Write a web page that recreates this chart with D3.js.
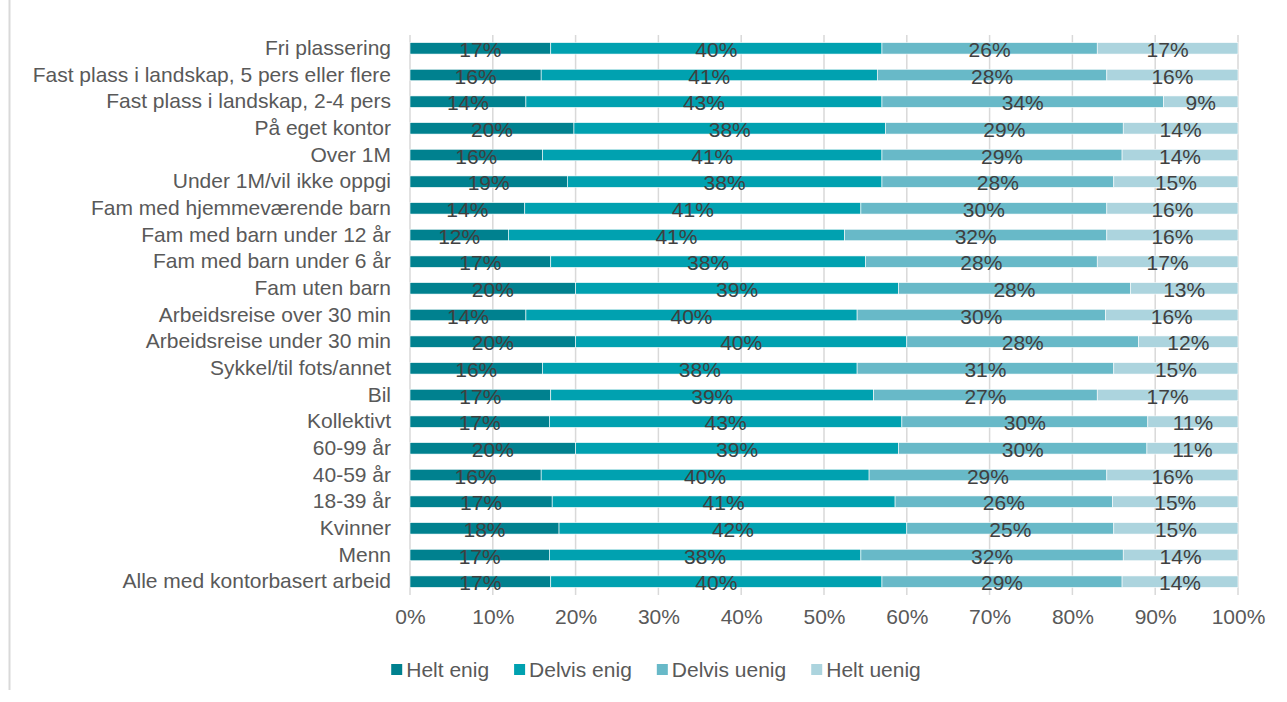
<!DOCTYPE html>
<html>
<head>
<meta charset="utf-8">
<script src="https://cdn.jsdelivr.net/npm/d3@7"></script>
<style>
  html, body { margin: 0; padding: 0; background: #fff; }
  svg { display: block; font-family: "Liberation Sans", Arial, sans-serif; }
</style>
</head>
<body>
<svg id="chart" width="1287" height="702"></svg>
<script>
// Groups, top to bottom
const categories = [
  "Fri plassering",
  "Fast plass i landskap, 5 pers eller flere",
  "Fast plass i landskap, 2-4 pers",
  "På eget kontor",
  "Over 1M",
  "Under 1M/vil ikke oppgi",
  "Fam med hjemmeværende barn",
  "Fam med barn under 12 år",
  "Fam med barn under 6 år",
  "Fam uten barn",
  "Arbeidsreise over 30 min",
  "Arbeidsreise under 30 min",
  "Sykkel/til fots/annet",
  "Bil",
  "Kollektivt",
  "60-99 år",
  "40-59 år",
  "18-39 år",
  "Kvinner",
  "Menn",
  "Alle med kontorbasert arbeid"
];

const seriesNames = ["Helt enig", "Delvis enig", "Delvis uenig", "Helt uenig"];

// Shares in percent, one array per answer, same order as categories
const heltEnig    = [17, 16, 14, 20, 16, 19, 14, 12, 17, 20, 14, 20, 16, 17, 17, 20, 16, 17, 18, 17, 17];
const delvisEnig  = [40, 41, 43, 38, 41, 38, 41, 41, 38, 39, 40, 40, 38, 39, 43, 39, 40, 41, 42, 38, 40];
const delvisUenig = [26, 28, 34, 29, 29, 28, 30, 32, 28, 28, 30, 28, 31, 27, 30, 30, 29, 26, 25, 32, 29];
const heltUenig   = [17, 16,  9, 14, 14, 15, 16, 16, 17, 13, 16, 12, 15, 17, 11, 11, 16, 15, 15, 14, 14];

const xTicks = [0, 0.1, 0.2, 0.3, 0.4, 0.5, 0.6, 0.7, 0.8, 0.9, 1.0];

const colors = ["#00818f", "#00a1b0", "#68b9c8", "#acd4de"];

const svg = d3.select("#chart");

const margin = { left: 410, right: 1238, top: 35, bottom: 595 };

// Frame edge on the left
svg.append("line")
  .attr("x1", 9.5).attr("x2", 9.5)
  .attr("y1", 0).attr("y2", 690)
  .attr("stroke", "#d9d9d9").attr("stroke-width", 2);

const rows = categories.map((c, i) => {
  const vals = [heltEnig[i], delvisEnig[i], delvisUenig[i], heltUenig[i]];
  const total = d3.sum(vals);
  const row = { category: c, values: vals };
  seriesNames.forEach((s, k) => row[s] = vals[k] / total);
  return row;
});

const stack = d3.stack().keys(seriesNames);
const stacked = stack(rows);

const x = d3.scaleLinear().domain([0, 1]).range([margin.left, margin.right]);
const y = d3.scaleBand().domain(categories).range([margin.top, margin.bottom]).paddingInner(0.57).paddingOuter(0.285);

// Vertical gridlines
svg.append("g")
  .selectAll("line")
  .data(xTicks)
  .join("line")
  .attr("x1", d => x(d)).attr("x2", d => x(d))
  .attr("y1", margin.top).attr("y2", margin.bottom)
  .attr("stroke", "#d9d9d9").attr("stroke-width", 1.5);

// Stacked bars
const layers = svg.append("g")
  .selectAll("g")
  .data(stacked)
  .join("g")
  .attr("fill", (d, i) => colors[i]);

layers.selectAll("rect")
  .data(d => d)
  .join("rect")
  .attr("x", d => x(d[0]))
  .attr("y", d => y(d.data.category))
  .attr("width", d => x(d[1]) - x(d[0]))
  .attr("height", y.bandwidth())
  .attr("stroke", "#ffffff")
  .attr("stroke-width", 0.6);

// Value labels
stacked.forEach((layer, k) => {
  svg.append("g")
    .selectAll("text")
    .data(layer)
    .join("text")
    .attr("x", d => x((d[0] + d[1]) / 2))
    .attr("y", d => y(d.data.category) + y.bandwidth() / 2 + 8.5)
    .attr("text-anchor", "middle")
    .attr("font-size", 21)
    .attr("fill", "#404040")
    .text(d => d.data.values[k] + "%");
});

// Category axis
const yAxis = svg.append("g")
  .attr("transform", `translate(${margin.left},0)`)
  .call(d3.axisLeft(y).tickSize(0).tickPadding(19));
yAxis.select(".domain").remove();
yAxis.selectAll("text")
  .attr("font-size", 21)
  .attr("font-family", "Liberation Sans, Arial, sans-serif")
  .attr("fill", "#595959");

// Percentage axis
const xAxis = svg.append("g")
  .attr("transform", `translate(0,${margin.bottom})`)
  .call(d3.axisBottom(x).tickValues(xTicks).tickFormat(d3.format(".0%")).tickSize(0).tickPadding(14));
xAxis.select(".domain").remove();
xAxis.selectAll("text")
  .attr("font-size", 21)
  .attr("font-family", "Liberation Sans, Arial, sans-serif")
  .attr("fill", "#595959");

// Legend
const legend = svg.append("g");
const items = legend.selectAll("g")
  .data(seriesNames)
  .join("g");
items.append("rect")
  .attr("width", 11).attr("height", 11)
  .attr("y", 664)
  .attr("fill", (d, i) => colors[i]);
items.append("text")
  .attr("x", 15)
  .attr("y", 677)
  .attr("font-size", 21)
  .attr("fill", "#595959")
  .text(d => d);

let cursor = 0;
const offsets = [];
items.each(function () {
  offsets.push(cursor);
  cursor += this.getBBox().width + 25;
});
const totalWidth = cursor - 25;
const start = 656 - totalWidth / 2;
items.attr("transform", (d, i) => `translate(${start + offsets[i]},0)`);
</script>
</body>
</html>
